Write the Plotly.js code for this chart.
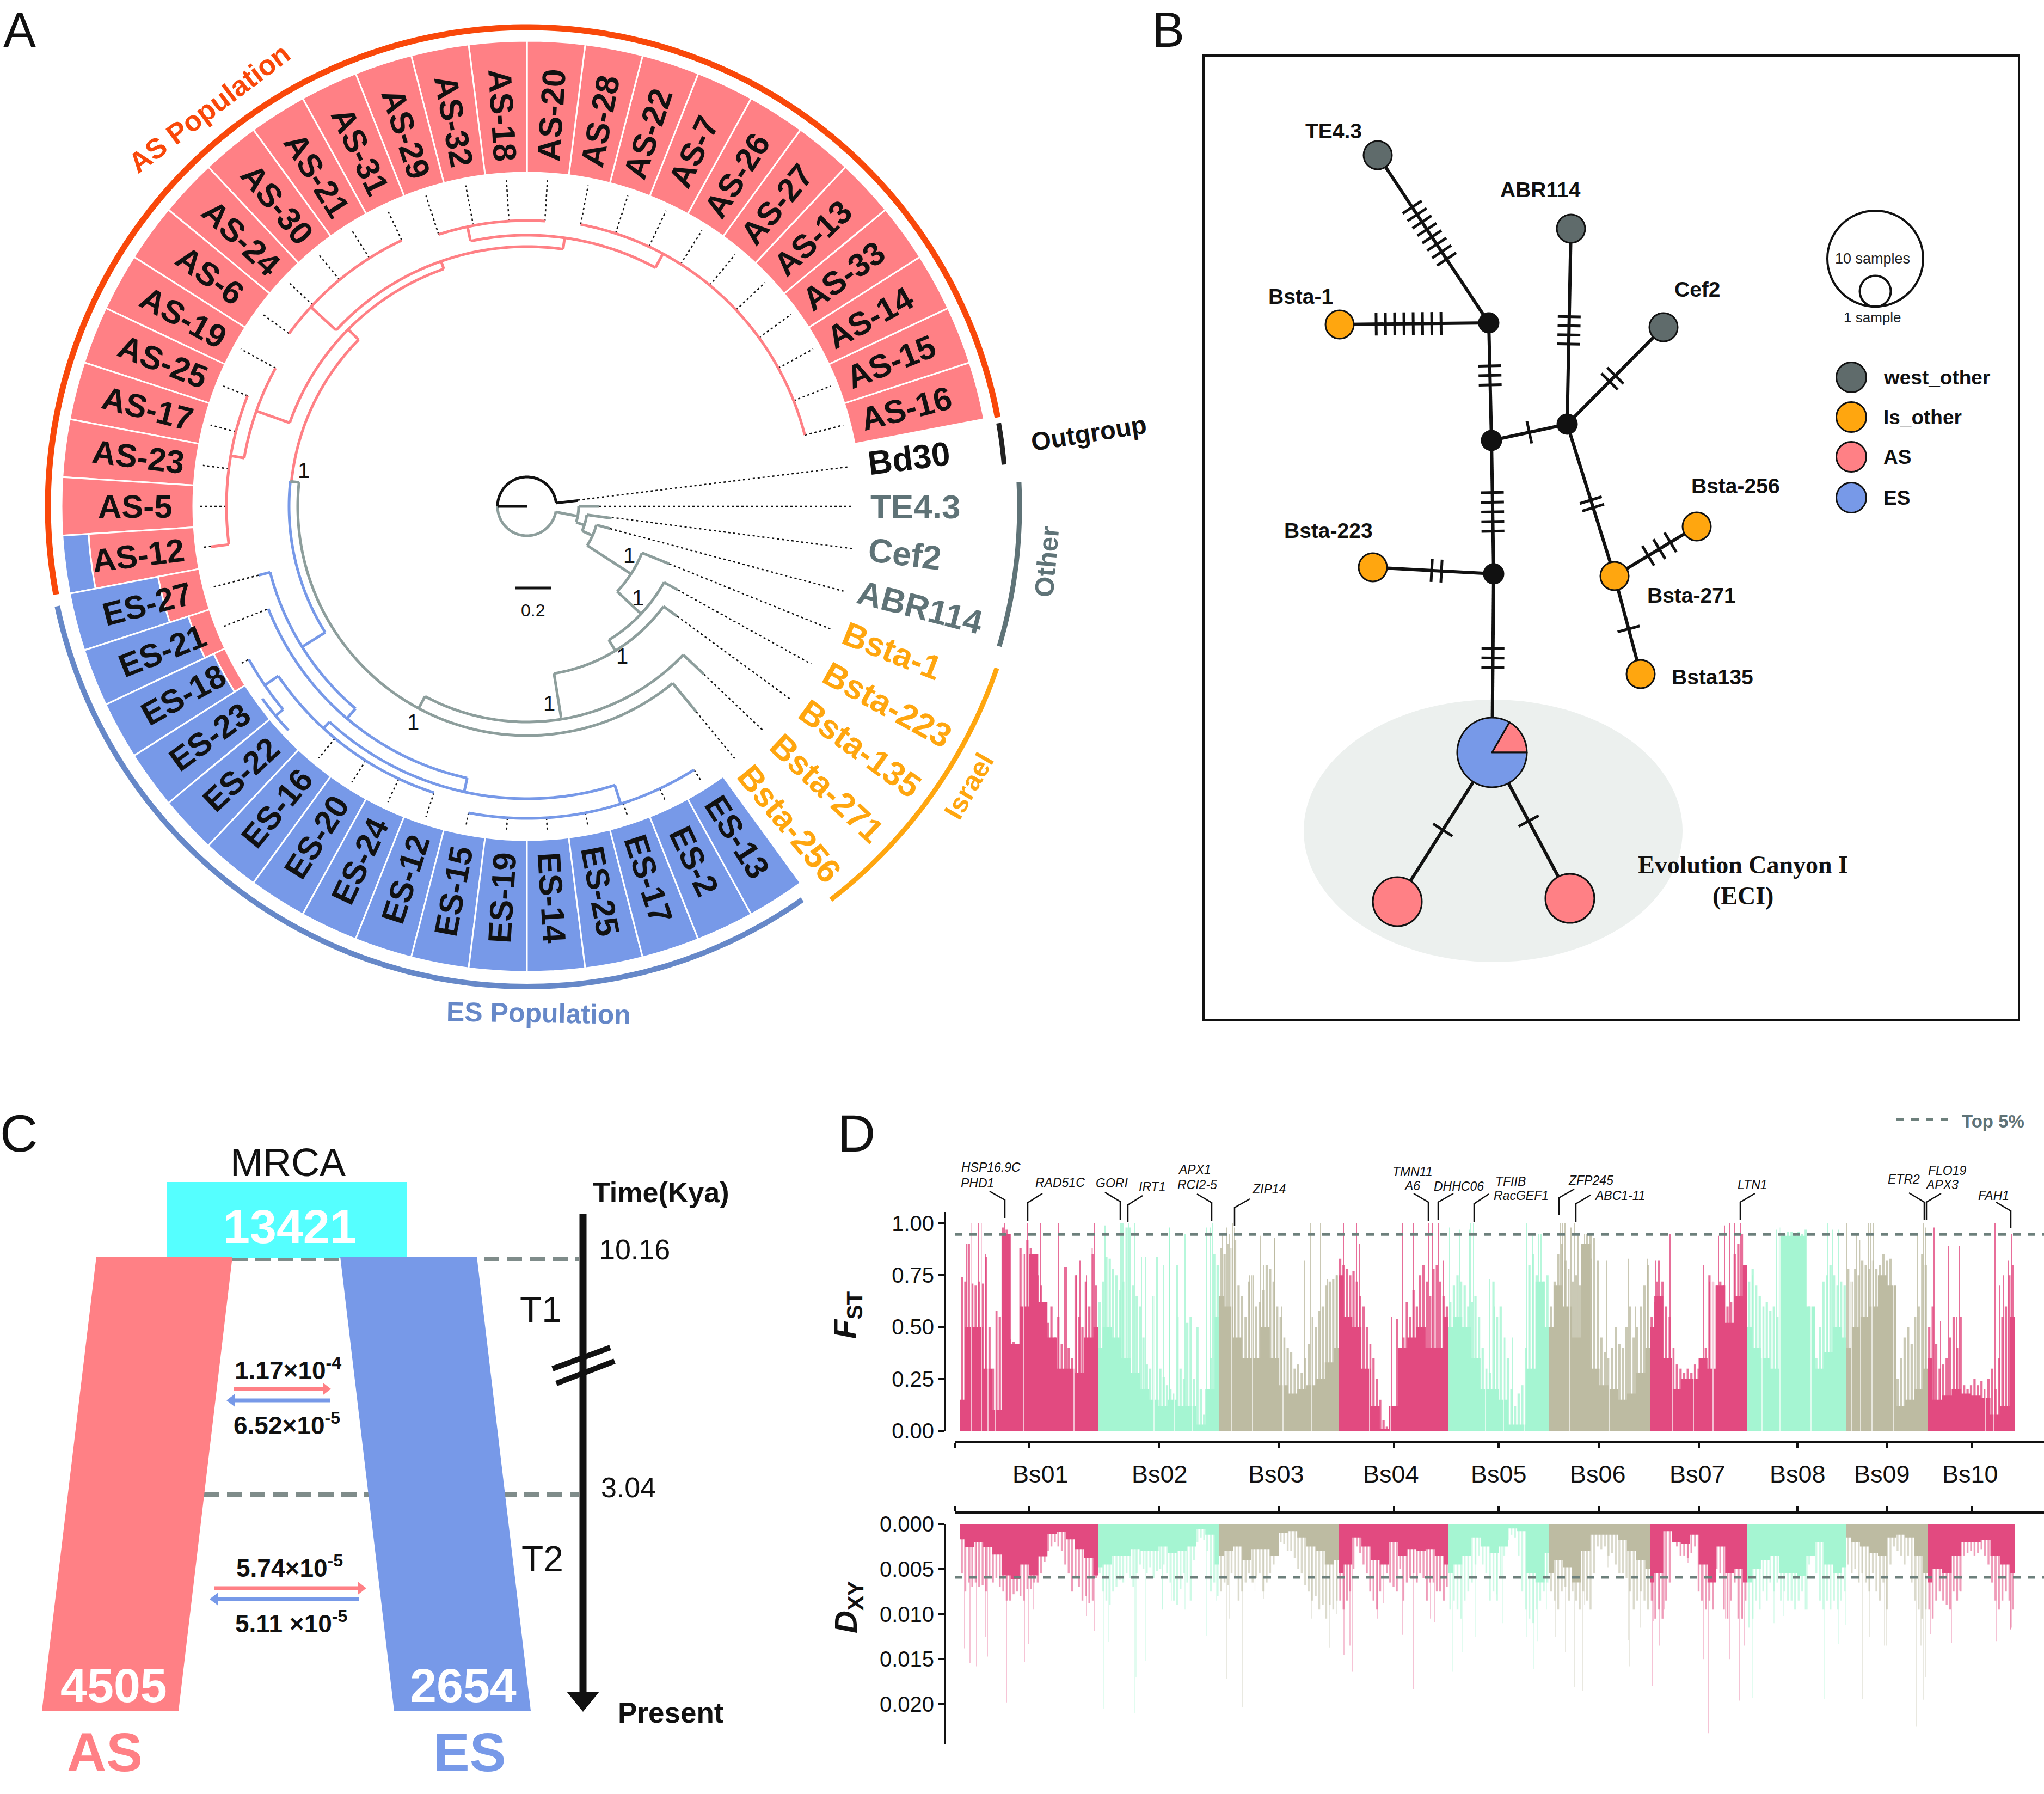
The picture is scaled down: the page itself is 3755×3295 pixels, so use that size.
<!DOCTYPE html>
<html><head><meta charset="utf-8">
<script src="https://cdn.plot.ly/plotly-3.0.1.min.js"></script>
<style>html,body{margin:0;padding:0;background:#fff}</style></head>
<body><div id="chart" style="width:3755px;height:3295px"></div>
<script>
const W=3755,H=3295;
const RED='#FF8085',BLUE='#7799E8',ORANGE='#FFA60F',SLATE='#5F7377',TREE='#8D9E9C',AS_ARC='#F9480A',ES_ARC='#6688C8';
/* ---------- panel A ---------- */
const cx=968,cy=930,R=925;
const sectorNames=['AS-16','AS-15','AS-14','AS-33','AS-13','AS-27','AS-26','AS-7','AS-22','AS-28','AS-20','AS-18','AS-32','AS-29','AS-31','AS-21','AS-30','AS-24','AS-6','AS-19','AS-25','AS-17','AS-23','AS-5','AS-12','ES-27','ES-21','ES-18','ES-23','ES-22','ES-16','ES-20','ES-24','ES-12','ES-15','ES-19','ES-14','ES-25','ES-17','ES-2','ES-13'];
const sectorStep=7.2, firstCentre=14.4, ringIn=613, ringOut=855;
const redOuter=[855,855,855,855,855,855,855,855,855,855,855,855,855,855,855,855,855,855,855,855,855,855,855,855,807,690,654,636];
const blueInner={24:807,25:690,26:654,27:636};
const tipR=[527,527,527,527,527,527,527,527,527,527,525,525,525,525,540,540,540,540,540,527,552,552,552,552,585,509,514,585,601,601,553,553,553,553,573,573,573,573,573,573,573];
const redArcs=[[527,14.4,79.2],[498,61.7,102],[525,86.4,108],[477,82,137.3],[540,115.2,144],[462,109.3,160.6],[435,135.3,174],[527,151.2,170.3],[552,158.4,187.3]];
const redRadials=[[61.7,498,527],[102,499,525],[82,477,498],[137.3,477,540],[109.3,462,477],[135.3,435,462],[160.6,462,527],[170.3,527,552],[187.3,552,585]];
const blueArcs=[[437,174,212],[487,194.4,229.7],[511,201.6,257.6],[537,227.5,287.5],[553,214.3,252],[573,259.2,302.4],[583,208.8,219.8],[601,216,223.2]];
const blueRadials=[[212,437,487],[194.4,487,509],[229.7,487,511],[257.6,511,537],[227.5,537,553],[287.5,537,573],[214.3,553,583],[219.8,583,601]];
const grayArcs=[[421,174,309.5],[396,241.8,316.5],[311,279.2,323.8],[288,301.5,331],[228,316.7,338],[132,327,345],[111,336,352],[95,342,360],[54,180,350]];
const grayRadials=[[174,421,437],[309.5,421,489],[241.8,396,421],[316.5,396,448],[279.2,311,393],[323.8,311,342],[301.5,288,311],[331,288,317],[316.7,228,288],[338,228,282],[327,132,228],[336,111,132],[345,132,158],[352,111,157],[342,95,111],[0,95,133],[349,54,95]];
const blackArcs=[[54,6.5,180]];
const blackRadials=[[6.5,54,94],[180,0,54]];
const outerDotted=[[7,94,596],[0,133,601],[352.6,157,602],[345,158,602],[338,282,602],[331,317,597],[323.8,342,602],[316.5,448,598],[309.5,489,600]];
const outerNames=['Bd30','TE4.3','Cef2','ABR114','Bsta-1','Bsta-223','Bsta-135','Bsta-271','Bsta-256'];
const outerAngles=[7.2,0,-7.2,-14.4,-21.6,-28.8,-36,-43.2,-50.4];
const outerRadii=[708,713,700,746,722,756,756,756,756];
const outerColors=['#111111',SLATE,SLATE,SLATE,ORANGE,ORANGE,ORANGE,ORANGE,ORANGE];
const groupArcs=[[880,10.7,190.6,AS_ARC,11],[882,192,305,ES_ARC,10],[880,5,10,'#222222',9],[905,-16.5,2.8,SLATE,9],[913,-52.3,-19,ORANGE,9]];
const supportX=[558,1156,1172,1143,1009,759], supportY=[864,1020,1098,1205,1292,1326];
/* ---------- panel B ---------- */
const nodeNames=['TE4.3','ABR114','Cef2','Bsta-1','J1','J2','J3','J4','Bsta-223','Bsta-271','Bsta-256','Bsta135','ES','AS1','AS2'];
const nodeX=[2531,2886,3056,2461,2735,2740,2879,2744,2522,2966,3117,3014,2741,2567,2884];
const nodeY=[285,420,601,596,593,809,779,1054,1042,1058,967,1238,1382,1656,1650];
const nodeSize=[52,52,52,52,36,36,36,36,52,52,52,52,0,90,90];
const nodeFill=['#5F6B6B','#5F6B6B','#5F6B6B',ORANGE,'#111','#111','#111','#111',ORANGE,ORANGE,ORANGE,ORANGE,BLUE,RED,RED];
const edges=[[0,4,8,.31,.62],[3,4,8,.245,.68],[4,5,3,.366,.528],[1,6,4,.45,.59],[2,6,2,.5,.56],[5,6,1,.5,.5],[5,7,5,.39,.68],[8,7,2,.487,.568],[7,12,3,.418,.524],[6,9,2,.5,.55],[9,10,3,.41,.68],[9,11,1,.54,.54],[12,13,1,.52,.52],[12,14,1,.47,.47]];
const haplotypeShare=[1,5];
const netLabels=['TE4.3','ABR114','Cef2','Bsta-1','Bsta-223','Bsta-256','Bsta-271','Bsta135'];
const netLabelX=[2450,2830,3118,2389,2440,3188,3107,3146];
const netLabelY=[240,348,531,544,974,892,1093,1243];
const legendNames=['west_other','Is_other','AS','ES'];
const legendColors=['#5F6B6B',ORANGE,RED,BLUE];
const legendY=[693,766,839,914];
/* ---------- panel C ---------- */
const asPolyX=[177,427,328,77,177], asPolyY=[2308,2308,3142,3142,2308];
const esPolyX=[625,876,975,724,625], esPolyY=[2308,2308,3142,3142,2308];
const mrcaX=[307,748,748,307,307], mrcaY=[2171,2171,2310,2310,2171];
const timeDash=[[427,1064,2312],[375,1064,2745]];
const migrations=[[429,606,2551,RED],[606,418,2572,BLUE],[393,671,2917,RED],[659,387,2937,BLUE]];
const migLabels=['1.17×10<sup>-4</sup>','6.52×10<sup>-5</sup>','5.74×10<sup>-5</sup>','5.11 ×10<sup>-5</sup>'];
const migLabelX=[529,527,532,535], migLabelY=[2514,2615,2877,2979];
/* ---------- panel D ---------- */
const chromNames=['Bs01','Bs02','Bs03','Bs04','Bs05','Bs06','Bs07','Bs08','Bs09','Bs10'];
const chromStart=[1764,2017,2240,2459,2661,2846,3031,3210,3392,3541];
const chromEnd=[2017,2240,2459,2661,2846,3031,3210,3392,3541,3701];
const chromColor=['#E24A80','#A5F5D2','#BDBBA2','#E24A80','#A5F5D2','#BDBBA2','#E24A80','#A5F5D2','#BDBBA2','#E24A80'];
const chromTicks=[1754,1890.5,2129,2350,2560.5,2753,2938,3121,3302,3467,3622];
const chromLabelX=[1911,2130,2344,2555,2753,2935,3118,3302,3457,3619];
const fstDense=[
[.15,.5,.5,.3,.1,.95,.42,.6,.85,.62,.45,.3,.3,.28,.45,.5],
[.4,.5,.45,.35,.28,.2,.15,.12,.15,.12,.12,.03,.2,.55],
[.65,.6,.45,.35,.35,.5,.35,.22,.18,.2,.22,.25,.33,.4],
[.75,.55,.5,.3,.12,.01,.12,.4,.45,.5,.4,.4,.55],
[.5,.55,.5,.35,.2,.2,.15,.03,.03,.3,.72,.5],
[.5,.7,.6,.45,.9,.3,.22,.2,.15,.18,.28,.4],
[.5,.65,.35,.2,.25,.25,.35,.3,.7,.52,.65,.8],
[.5,.4,.35,.3,.94,.94,.94,.6,.3,.38,.5,.45],
[.4,.5,.55,.6,.75,.7,.12,.15,.2,.3],
[.35,.15,.17,.2,.18,.17,.16,.08,.12,.55]];
const fstHair=[
[.74,.72,.9,.71,.7,.72,.71,.84,.5,.3,.58,.55,.98,.97,.44,.43,.42,.88,.85,.92,.88,.82,.75,.7,.62,.52,.6,.45,.55,.42,.79,.4,.35,.75,.55,.5,.72,.6,.85,.7],
[.62,.72,.84,.83,.78,.75,.68,.72,.98,.98,.7,.65,.6,.45,.32,.3,.65,.84,.3,.26,.22,.2,.18,.8,.3,.25,.52,.55,.25,.5,.2,.08,.05,.35,.85,.8],
[.88,.85,.9,.88,.92,.7,.65,.55,.72,.75,.6,.62,.68,.8,.78,.72,.6,.55,.45,.4,.38,.3,.32,.28,.35,.42,.55,.5,.58,.6,.7,.72,.73,.75],
[.83,.8,.78,.75,.77,.72,.65,.6,.5,.42,.35,.25,.15,.05,.02,.01,.02,.54,.3,.45,.62,.55,.68,.6,.75,.8,.72,.65,.78,.8,.72,.65,.6],
[.62,.7,.75,.72,.7,.6,.62,.65,.55,.4,.3,.28,.72,.55,.6,.45,.35,.2,.12,.18,.22,.4,.8,.85,.75,.7,.72,.75],
[.6,.72,.85,.9,.82,.78,.72,.75,.7,.72,.95,.95,.93,.82,.45,.38,.35,.4,.5,.42,.4,.5,.6,.45,.5,.6,.7,.8],
[.55,.62,.82,.72,.6,.55,.4,.32,.3,.28,.3,.28,.32,.3,.35,.4,.75,.72,.7,.72,.7,.6,.62,.85,.9,.95,.8],
[.72,.78,.7,.65,.6,.62,.58,.6,.55,.7,.95,.96,.96,.95,.96,.95,.97,.6,.3,.35,.5,.72,.75,.8,.75,.7,.72,.7],
[.78,.72,.78,.75,.82,.8,.78,.82,.78,.8,.85,.82,.83,.3,.25,.35,.45,.5,.42,.55,.6,.85,.8],
[.5,.6,.42,.3,.32,.35,.45,.55,.4,.55,.22,.2,.22,.25,.22,.24,.2,.25,.3,.2,.35,.55,.6,.75,.8]];
const fstSpikeX=[
[1775,1785,1797,1803,1810,1845,1887,1911,1945,1959,1978,1984,1996,2006.5,2010],
[2030,2059,2061,2063,2073,2084,2097,2104,2138,2148.5,2164.5,2177,2217,2223,2228],
[2246,2253,2258,2264,2268,2296,2316,2321,2341.5,2354,2397,2407,2426,2439,2455],
[2468,2492,2498,2556,2577,2597,2624,2632,2642,2652],
[2663,2682,2699,2701,2707,2736,2746,2779,2804,2816,2826,2831],
[2866,2871,2875,2886,2892,2899,2911,2924,2951,2992,3005,3027],
[3041,3044,3067,3069,3129,3140,3157,3168,3178,3187,3197,3205],
[3220,3264,3270,3358,3367,3378],
[3393,3410,3417,3432,3436,3441,3522,3534,3538],
[3553,3565,3580,3594,3600,3665,3673,3680,3690,3695]];
const fstSpikeY=[
[.9,1,1,1,.85,1,1,1,1,.79,.75,.82,.75,.88,1],
[.99,1,1,1,1,1,.84,.84,.8,.98,.55,.95,.98,.98,1],
[.95,.98,.95,1,.98,.75,.94,.8,.93,.6,.82,1,1,.73,.75],
[1,1,.9,.55,1,1,1,1,1,.82],
[.98,.97,.97,1,1,.73,.6,.45,1,.95,.95,.95],
[1,1,1,.98,1,.95,.95,.83,.82,.83,.6,.83],
[.82,.72,.95,.95,.8,.72,.94,.99,1,1,1,.8],
[.75,.97,.98,1,.97,.97],
[1,.95,.92,1,1,1,.95,1,.98],
[.98,.53,.89,.55,.89,1,.7,.75,.82,.95]];
const fstGaps=[1785,1803,1815,1828,1880,1973,2120,2157,2190,2262,2301,2357,2409,2516,2555,2729,2762,2801,2884,2956,3072,3111,3147,3237,3270,3327,3402,3418,3439,3479,3648,3663];
const dxyDense=[
[.0017,.0026,.002,.0026,.0034,.0057,.0061,.0045,.0057,.0036,.0011,.0009,.0017,.0028,.0038,.0057],
[.0048,.0045,.0035,.0035,.0028,.003,.003,.0025,.0032,.003,.0025,.0006,.0012,.0045],
[.0035,.003,.0025,.004,.0028,.0028,.0035,.001,.0008,.0015,.0025,.003,.0045,.004],
[.0055,.0045,.0015,.0025,.004,.0045,.002,.0035,.0028,.003,.0028,.0035,.0045],
[.0055,.0045,.0035,.0015,.0025,.0032,.0025,.0005,.0008,.0055,.0065,.0032],
[.0055,.004,.0048,.0065,.003,.0012,.0012,.0012,.0018,.003,.004,.005],
[.0065,.0055,.0008,.002,.0022,.0012,.0045,.0065,.0025,.0055,.005,.0065],
[.0065,.005,.004,.0035,.0055,.0055,.0058,.0035,.002,.0045,.0055,.0048],
[.0015,.002,.0025,.0032,.0035,.0015,.0012,.0015,.0035,.0055],
[.0065,.005,.0055,.0035,.002,.002,.0018,.0035,.0045,.0055]];
const dxyHair=[
[.0055,.0075,.0065,.007,.0065,.007,.0068,.0075,.006,.0065,.006,.007,.0075,.0085,.0085,.0078,.0075,.008,.0085,.0072,.0072,.0065,.0065,.0055,.0042,.003,.0025,.002,.0025,.003,.0045,.0055,.0075,.006,.007,.0085,.008,.0088,.0085,.006],
[.0055,.0075,.0085,.009,.0075,.007,.0062,.0065,.0055,.006,.007,.0055,.0045,.005,.0055,.0048,.006,.0052,.005,.0045,.0055,.0065,.0085,.009,.0072,.0055,.0065,.0085,.004,.002,.0015,.0018,.003,.0075,.0065,.008],
[.0075,.0065,.0068,.0055,.006,.0085,.0075,.0065,.0055,.0065,.006,.0055,.0075,.0065,.0055,.0045,.0035,.002,.0022,.003,.003,.0038,.005,.0055,.0068,.0075,.0085,.008,.0095,.009,.0105,.009,.0095,.0085],
[.0085,.0095,.0085,.0075,.005,.0025,.0032,.0045,.0055,.0075,.0085,.0095,.0075,.003,.0055,.0065,.007,.0075,.005,.0085,.0065,.006,.0055,.0065,.0055,.006,.0085,.0065,.0065,.0075,.0075,.0085,.007],
[.0095,.0085,.0095,.0105,.0085,.0075,.0065,.0045,.0035,.0045,.0055,.0085,.0075,.0085,.006,.0035,.0018,.0012,.0015,.0035,.0075,.0095,.0105,.011,.0095,.0085,.0075,.0065],
[.0075,.0085,.0095,.0075,.007,.0085,.0075,.0085,.0095,.0075,.0085,.0095,.0055,.0025,.0028,.0025,.0035,.0032,.0045,.0055,.0055,.006,.0075,.0095,.0085,.0075,.0085,.0095],
[.0085,.0105,.0095,.0105,.0085,.0065,.002,.0025,.0035,.0035,.0038,.0032,.0025,.0075,.0085,.0095,.0085,.0095,.005,.0055,.0095,.0105,.0085,.0065,.0105,.0105,.0085],
[.0115,.0105,.0085,.0095,.0075,.0085,.0065,.0075,.0065,.0085,.0075,.0085,.0085,.0095,.0085,.0075,.0095,.0045,.003,.0055,.0085,.0095,.0085,.0095,.0085,.0095,.0085,.0075],
[.0045,.0055,.005,.0065,.0055,.0065,.0075,.0055,.0075,.0085,.0065,.0095,.0045,.0025,.003,.0035,.0045,.0035,.0065,.0085,.0095,.0105,.0095],
[.0095,.0105,.0085,.0075,.0085,.009,.0095,.0075,.0085,.0075,.0035,.0032,.003,.0035,.0032,.0028,.0035,.0045,.0065,.0085,.0095,.0085,.0075,.0085,.0095]];
const dxySpikeX=[
[1772,1782,1794,1810,1814,1849,1882,1889,1898,1996,2010],
[2027,2037,2084,2087,2104,2135.5,2152,2177,2217,2235],
[2253,2258,2282,2305.5,2321,2409,2442,2455],
[2469,2480,2484,2530,2541,2577,2597,2628,2636,2654],
[2668,2686,2710,2749,2760,2805,2818,2825,2841],
[2857,2876,2892,2908,2911,2954,2992,2994,3014],
[3035,3037,3049,3058,3101,3125,3129,3139,3170,3177,3196,3205,3201],
[3219,3259,3277,3320,3351,3378,3390],
[3421,3434,3462,3466,3521,3529,3533,3538],
[3547,3585,3599,3668,3693.5,3696]];
const dxySpikeY=[
[.0138,.0154,.0158,.0125,.0147,.0198,.0153,.0133,.0095,.0102,.0119],
[.0205,.0131,.021,.017,.0152,.0095,.0085,.0095,.0124,.0085],
[.0172,.0105,.0203,.0075,.0083,.0105,.0137,.01],
[.0145,.0135,.0164,.0105,.0088,.0123,.0183,.0105,.0109,.0085],
[.0164,.0142,.0125,.0078,.011,.0125,.0161,.013,.0095],
[.0125,.0142,.0181,.0185,.009,.0048,.0129,.0158,.0115],
[.018,.0108,.0135,.0095,.0043,.0085,.015,.0232,.0105,.015,.0196,.0135,.0105],
[.0193,.011,.0102,.0095,.0194,.0133,.0112],
[.0194,.0125,.0135,.0135,.0225,.0135,.0195,.017],
[.0122,.0132,.0074,.013,.0117,.0115]];
const fstCut=.947, dxyCut=.00592;
const geneNames=['HSP16.9C','PHD1','RAD51C','GORI','IRT1','APX1','RCI2-5','ZIP14','TMN11','A6','DHHC06','TFIIB','RacGEF1','ZFP245','ABC1-11','LTN1','ETR2','FLO19','APX3','FAH1'];
const geneX=[1820,1795,1947,2042,2116,2194,2199,2331,2595,2594,2680,2775,2794,2922,2976,3219,3497,3577,3567,3662];
const geneY=[2144,2173,2172,2173,2180,2148,2176,2184,2152,2178,2179,2170,2196,2168,2196,2176,2166,2150,2176,2196];
const leaderX=[[1818,1846,1846],[1915,1888,1888],[2030,2058,2058],[2099,2072,2072],[2199,2226,2226],[2296,2268,2268],[2597,2624,2624],[2670,2642,2642],[2735,2708,2708],[2892,2864,2864],[2922,2895,2895],[3224,3197,3197],[3507,3535,3535],[3566,3539,3539],[3667,3694,3694]];
const leaderY=[[2188,2204,2237],[2192,2209,2242],[2190,2207,2240],[2196,2213,2245],[2193,2209,2242],[2202,2218,2251],[2192,2208,2242],[2192,2208,2241],[2193,2211,2244],[2184,2200,2232],[2195,2211,2244],[2192,2208,2241],[2191,2208,2241],[2192,2208,2241],[2208,2224,2256]];

/* ---------- build ---------- */
const traces=[],ann=[],shapes=[];
const FONT='Liberation Sans';
function txt(x,y,text,size,color,bold,angle,family,xa){
  ann.push({x,y,xref:'x',yref:'y',text:bold?'<b>'+text+'</b>':text,showarrow:false,textangle:angle||0,xanchor:xa||'center',yanchor:'middle',
    font:{family:family||FONT,size,color:color||'#111111'}});
}
function polar2page(r,t){const a=t*Math.PI/180;return [cx+r*Math.cos(a),cy-r*Math.sin(a)];}
function pathFrom(arcs,radials){
  const r=[],th=[];
  arcs.forEach(a=>{const n=Math.max(2,Math.ceil(Math.abs(a[2]-a[1])));for(let k=0;k<=n;k++){r.push(a[0]);th.push(a[1]+(a[2]-a[1])*k/n);}r.push(null);th.push(null);});
  radials.forEach(q=>{r.push(q[1],q[2],null);th.push(q[0],q[0],null);});
  return {r,th};
}
function polarLine(arcs,radials,color,width,dash){
  const p=pathFrom(arcs,radials);
  traces.push({type:'scatterpolar',subplot:'polar',mode:'lines',r:p.r,theta:p.th,line:{color,width,dash:dash||'solid'},hoverinfo:'skip',showlegend:false,connectgaps:false});
}
/* ring */
const centres=sectorNames.map((_,i)=>firstCentre+sectorStep*i);
traces.push({type:'barpolar',subplot:'polar',theta:redOuter.map((_,i)=>centres[i]),base:redOuter.map(()=>ringIn),r:redOuter.map(v=>v-ringIn),width:sectorStep,marker:{color:RED,line:{color:'#fff',width:3}},hoverinfo:'skip',showlegend:false});
const blueIdx=sectorNames.map((_,i)=>i).filter(i=>i>=24);
traces.push({type:'barpolar',subplot:'polar',theta:blueIdx.map(i=>centres[i]),base:blueIdx.map(i=>blueInner[i]||ringIn),r:blueIdx.map(i=>ringOut-(blueInner[i]||ringIn)),width:sectorStep,marker:{color:BLUE,line:{color:'#fff',width:3}},hoverinfo:'skip',showlegend:false});
/* dotted */
polarLine([],tipR.map((v,i)=>[centres[i],v,600]).filter(q=>q[1]<q[2]).concat(outerDotted),'#111111',2.5,'4px,5px');
polarLine(redArcs,redRadials,RED,5);
polarLine(blueArcs,blueRadials,BLUE,5);
polarLine(grayArcs,grayRadials,TREE,5);
polarLine(blackArcs,blackRadials,'#111111',5);
groupArcs.forEach(g=>polarLine([[g[0],g[1],g[2]]],[],g[3],g[4]));
/* ring labels */
sectorNames.forEach((n,i)=>{const t=centres[i],p=polar2page(720,t),c=Math.cos(t*Math.PI/180);
  txt(p[0],p[1],n,60,'#111111',true,c>=0?-t:180-t);});
outerNames.forEach((n,i)=>{const p=polar2page(outerRadii[i],outerAngles[i]);txt(p[0],p[1],n,62,outerColors[i],true,-outerAngles[i]);});
supportX.forEach((x,i)=>txt(x,supportY[i],'1',40,'#111'));
txt(384,199,'AS Population',52,AS_ARC,true,-37);
txt(989,1861,'ES Population',50,ES_ARC,true,1);
txt(2000,795,'Outgroup',47,'#111',true,-9);
txt(1923,1032,'Other',49,SLATE,true,-85);
txt(1780,1444,'Israel',50,ORANGE,true,-60);
txt(979,1121,'0.2',32,'#111');
function pageLine(xs,ys,color,width,dash){traces.push({type:'scatter',mode:'lines',x:xs,y:ys,line:{color,width,dash:dash||'solid'},hoverinfo:'skip',showlegend:false,xaxis:'x',yaxis:'y'});}
function pagePoly(xs,ys,color){traces.push({type:'scatter',mode:'lines',x:xs,y:ys,fill:'toself',fillcolor:color,line:{width:0,color},hoverinfo:'skip',showlegend:false,xaxis:'x',yaxis:'y'});}
pageLine([947,1013],[1080,1080],'#111',5);
/* panel letters */
txt(36,55,'A',90,'#111');txt(2146,55,'B',90,'#111');txt(34,2081,'C',96,'#111');txt(1573,2081,'D',96,'#111');
/* panel B */
shapes.push({type:'rect',xref:'x',yref:'y',x0:2211,x1:3709,y0:102,y1:1873,line:{color:'#111',width:4},layer:'below'});
shapes.push({type:'circle',xref:'x',yref:'y',x0:2395,x1:3091,y0:1285,y1:1767,fillcolor:'#ECF0EE',line:{width:0},layer:'below'});
edges.forEach(e=>{
  const x0=nodeX[e[0]],y0=nodeY[e[0]],x1=nodeX[e[1]],y1=nodeY[e[1]];
  pageLine([x0,x1],[y0,y1],'#111',6);
  const dx=x1-x0,dy=y1-y0,L=Math.hypot(dx,dy);
  const xs=[],ys=[];
  for(let k=0;k<e[2];k++){const t=e[2]>1?e[3]+(e[4]-e[3])*k/(e[2]-1):e[3];
    const mx=x0+dx*t,my=y0+dy*t;
    xs.push(mx-dy/L*21,mx+dy/L*21,null);ys.push(my+dx/L*21,my-dx/L*21,null);}
  pageLine(xs,ys,'#111',5);
});
traces.push({type:'scatter',mode:'markers',x:nodeX,y:nodeY,text:nodeNames,marker:{size:nodeSize,opacity:1,color:nodeFill,line:{color:'#111',width:3}},hoverinfo:'text',showlegend:false,xaxis:'x',yaxis:'y'});
traces.push({type:'pie',values:haplotypeShare,labels:['AS','ES'],sort:false,direction:'clockwise',rotation:30,textinfo:'none',hoverinfo:'label',showlegend:false,
  domain:{x:[(2741-64)/W,(2741+64)/W],y:[1-(1382+64)/H,1-(1382-64)/H]},marker:{colors:[RED,BLUE],line:{color:'#111',width:3}}});
netLabels.forEach((n,i)=>txt(netLabelX[i],netLabelY[i],n,39,'#111',true));
txt(3202,1588,'Evolution Canyon I',46,'#111',true,0,'Liberation Serif');
txt(3202,1645,'(ECI)',46,'#111',true,0,'Liberation Serif');
traces.push({type:'scatter',mode:'markers',x:[3445,3445],y:[475,535],marker:{size:[176,57],opacity:1,color:'rgba(255,255,255,0)',line:{color:'#111',width:4}},hoverinfo:'skip',showlegend:false,xaxis:'x',yaxis:'y'});
txt(3440,475,'10 samples',27,'#222');txt(3440,583,'1 sample',26,'#222');
traces.push({type:'scatter',mode:'markers',x:legendY.map(()=>3401),y:legendY,marker:{size:55,opacity:1,color:legendColors,line:{color:'#111',width:3}},hoverinfo:'skip',showlegend:false,xaxis:'x',yaxis:'y'});
legendNames.forEach((n,i)=>txt(3458,legendY[i],n,37,'#111',true,0,FONT,'left'));
/* panel C */
timeDash.forEach(d=>pageLine([d[0],d[1]],[d[2],d[2]],'#7F8C8A',8,'28px,14px'));
pagePoly(mrcaX,mrcaY,'#55FFFF');
pagePoly(asPolyX,asPolyY,RED);
pagePoly(esPolyX,esPolyY,BLUE);
pageLine([1071,1071],[2229,3112],'#111',13);
pagePoly([1041,1101,1071,1041],[3107,3107,3144,3107],'#111');
pageLine([1015,1121],[2514,2475],'#111',10);
pageLine([1022,1129],[2541,2500],'#111',10);
migrations.forEach(m=>{const s=m[1]>m[0]?1:-1;pageLine([m[0],m[1]-s*8],[m[2],m[2]],m[3],7);
  traces.push({type:'scatter',mode:'markers',x:[m[1]-s*8],y:[m[2]],marker:{symbol:s>0?'triangle-right':'triangle-left',size:20,color:m[3]},hoverinfo:'skip',showlegend:false,xaxis:'x',yaxis:'y'});});
migLabels.forEach((t,i)=>txt(migLabelX[i],migLabelY[i],t,46,'#111',true));
txt(529,2135,'MRCA',72,'#111');
txt(532,2252,'13421',88,'#fff',true);
txt(209,3095,'4505',88,'#fff',true);txt(851,3095,'2654',88,'#fff',true);
txt(192,3218,'AS',100,RED,true);txt(862,3218,'ES',100,BLUE,true);
txt(1214,2190,'Time(Kya)',52,'#111',true);txt(1166,2295,'10.16',52,'#111');txt(1154,2732,'3.04',52,'#111');
txt(993,2405,'T1',66,'#111');txt(996,2863,'T2',66,'#111');txt(1232,3145,'Present',53,'#111',true);
/* panel D */
function bars(x,w,y,color,op,xa,ya){traces.push({type:'bar',x,y,width:w,marker:{color,opacity:op,line:{width:0}},hoverinfo:'skip',showlegend:false,xaxis:xa,yaxis:ya});}
function area(c,vals,xa,ya){const n=vals.length-1,s=chromStart[c],e=chromEnd[c];
  traces.push({type:'scatter',mode:'lines',x:vals.map((_,k)=>s+(e-s)*k/n),y:vals,fill:'tozeroy',fillcolor:chromColor[c],line:{width:0,color:chromColor[c],shape:'hvh'},hoverinfo:'skip',showlegend:false,xaxis:xa,yaxis:ya});}
chromNames.forEach((n,c)=>{
  const hairX=arr=>{const w=(chromEnd[c]-chromStart[c])/arr.length;return arr.map((_,k)=>chromStart[c]+w*(k+.5));};
  bars(hairX(fstHair[c]),4.2,fstHair[c],chromColor[c],.8,'x2','y2');
  bars(fstSpikeX[c],1.6,fstSpikeY[c],chromColor[c],1,'x2','y2');
  area(c,fstDense[c],'x2','y2');
  bars(hairX(dxyHair[c]),3.4,dxyHair[c],chromColor[c],.55,'x3','y3');
  bars(dxySpikeX[c],1.1,dxySpikeY[c],chromColor[c],.6,'x3','y3');
  area(c,dxyDense[c],'x3','y3');
  txt(chromLabelX[c],2707,n,45,'#111');
});
{const gx=[],gy=[];fstGaps.forEach(g=>{gx.push(g,g,null);gy.push(0,1.05,null);});
 traces.push({type:'scatter',mode:'lines',x:gx,y:gy,line:{color:'#fff',width:1.3},hoverinfo:'skip',showlegend:false,xaxis:'x2',yaxis:'y2'});}
[['x2','y2',fstCut],['x3','y3',dxyCut]].forEach(q=>traces.push({type:'scatter',mode:'lines',x:[1754,3755],y:[q[2],q[2]],line:{color:'#6D807C',width:5,dash:'14px,13px'},hoverinfo:'skip',showlegend:false,xaxis:q[0],yaxis:q[1]}));
leaderX.forEach((l,i)=>pageLine(l,leaderY[i],'#111',2.5));
geneNames.forEach((g,i)=>txt(geneX[i],geneY[i],'<i>'+g+'</i>',23,'#111'));
pageLine([3484,3587],[2056,2056],'#6D807C',5,'14px,13px');
txt(3661,2059,'Top 5%',33,SLATE,true);
txt(1556,2415,'<i>F</i><sub>ST</sub>',58,'#111',true,-90);
txt(1558,2952,'<i>D</i><sub>XY</sub>',58,'#111',true,-90);

const yAx={anchor:'free',position:1736/W,showline:true,linecolor:'#111',linewidth:4,ticks:'outside',ticklen:10,tickwidth:4,tickcolor:'#111',showgrid:false,zeroline:false,tickfont:{family:FONT,size:40,color:'#111'},fixedrange:true};
const xAx={range:[1754,3755],domain:[1754/W,1],anchor:'free',showline:true,linecolor:'#111',linewidth:4,ticks:'outside',ticklen:10,tickwidth:4,tickcolor:'#111',tickmode:'array',tickvals:chromTicks,showticklabels:false,showgrid:false,zeroline:false,fixedrange:true};
const layout={width:W,height:H,margin:{l:0,r:0,t:0,b:0,pad:0},paper_bgcolor:'#fff',plot_bgcolor:'rgba(0,0,0,0)',showlegend:false,barmode:'overlay',font:{family:FONT},
  xaxis:{domain:[0,1],range:[0,W],visible:false,fixedrange:true},
  yaxis:{domain:[0,1],range:[H,0],visible:false,fixedrange:true},
  xaxis2:Object.assign({},xAx,{position:1-2647.5/H,side:'bottom'}),
  yaxis2:Object.assign({},yAx,{domain:[1-2629/H,1-2226/H],range:[-0.0026,1.055],tickmode:'array',tickvals:[0,.25,.5,.75,1],ticktext:['0.00','0.25','0.50','0.75','1.00']}),
  xaxis3:Object.assign({},xAx,{position:1-2778/H,side:'top'}),
  yaxis3:Object.assign({},yAx,{domain:[1-3203/H,1-2799/H],range:[.0244,0],tickmode:'array',tickvals:[0,.005,.01,.015,.02],ticktext:['0.000','0.005','0.010','0.015','0.020']}),
  polar:{domain:{x:[(cx-R)/W,(cx+R)/W],y:[1-(cy+R)/H,1-(cy-R)/H]},bgcolor:'rgba(0,0,0,0)',
    radialaxis:{visible:false,range:[0,R],showticklabels:false,ticks:'',showline:false,showgrid:false},
    angularaxis:{visible:false,rotation:0,direction:'counterclockwise',showticklabels:false,ticks:'',showline:false,showgrid:false,tickmode:'array',tickvals:[]}},
  annotations:ann,shapes:shapes};
Plotly.newPlot('chart',traces,layout,{staticPlot:true,displayModeBar:false}).then(gd=>{
  /* drop empty helper text nodes the polar subplot leaves behind */
  gd.querySelectorAll('svg text').forEach(t=>{const b=t.getBBox();if(b.width===0||b.height===0||!t.textContent.trim())t.remove();});
});
</script></body></html>
